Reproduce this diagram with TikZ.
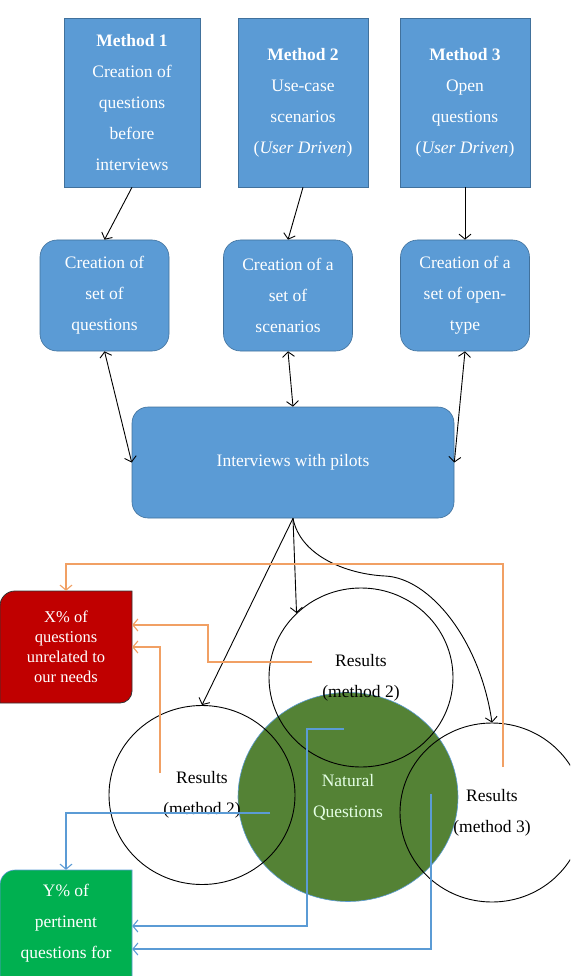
\documentclass[tikz,border=0pt]{standalone}
\usepackage{fontspec}
\setmainfont{Liberation Serif}
\usetikzlibrary{arrows.meta,shapes.geometric}
\definecolor{mblue}{RGB}{91,155,213}
\definecolor{mborder}{RGB}{65,113,156}
\definecolor{xred}{RGB}{192,0,0}
\definecolor{ygreen}{RGB}{0,176,80}
\definecolor{natgreen}{RGB}{84,130,53}
\definecolor{lorange}{RGB}{241,160,100}
\newcommand{\bigtxt}{\fontsize{17.5}{31}\selectfont}
\newcommand{\redtxt}{\fontsize{16.5}{20}\selectfont}

\begin{document}
\begin{tikzpicture}[x=1pt, y=-1pt,
    methbox/.style={rectangle, draw=mborder, line width=0.6pt, fill=mblue, text=white, minimum height=169pt, align=center, inner sep=2pt, font=\bigtxt},
    setbox/.style={rectangle, draw=mborder, line width=0.6pt, fill=mblue, text=white, rounded corners=17pt, minimum width=129pt, minimum height=111pt, align=center, inner sep=2pt, font=\bigtxt},
    resnode/.style={ellipse, draw, line width=0.9pt, minimum width=184pt, minimum height=179pt, align=center, inner sep=0pt, font=\bigtxt},
    arrow/.style={-{Straight Barb[length=5pt,width=12pt]}, line width=0.9pt},
    dblarrow/.style={{Straight Barb[length=5pt,width=12pt]}-{Straight Barb[length=5pt,width=12pt]}, line width=0.9pt},
    orline/.style={arrow, draw=lorange, line width=1.1pt},
    blline/.style={arrow, draw=mblue, line width=1.1pt}
  ]
  \useasboundingbox (0,0) rectangle (570,976);
  \clip (0,0) rectangle (570,976);

  % method boxes
  \node[methbox, minimum width=136pt] at (132,102.5) (meth1) {\textbf{Method 1}\\Creation of\\questions\\before\\interviews};
  \node[methbox, minimum width=130pt] at (303,102.5) (meth2) {\textbf{Method 2}\\Use-case\\scenarios\\(\textit{User Driven})};
  \node[methbox, minimum width=130pt] at (465,102.5) (meth3) {\textbf{Method 3}\\Open\\questions\\(\textit{User Driven})};

  % sets
  \node[setbox] at (104.5,295.5) (set1) {Creation of\\set of\\questions};
  \node[setbox] at (288,295.5)   (set2) {Creation of a\\set of\\scenarios};
  \node[setbox] at (465,295.5)   (set3) {Creation of a\\set of open-\\type};

  \node[setbox, rounded corners=16pt, minimum width=322pt] at (293,462.5) (intv) {Interviews with pilots};

  \draw[arrow] (meth1.south) -- (set1.north);
  \draw[arrow] (meth2.south) -- (set2.north);
  \draw[arrow] (meth3.south) -- (set3.north);
  \draw[dblarrow] (set1.south) -- (intv.west);
  \draw[dblarrow] (set2.south) -- (intv.north);
  \draw[dblarrow] (set3.south) -- (intv.east);

  % result circles
  \node[ellipse, draw=mblue, line width=0.6pt, fill=natgreen, text=green!10, minimum width=220pt, minimum height=209pt, align=center, font=\bigtxt] at (348,797) (natq) {Natural\\Questions};
  \node[resnode, minimum width=186pt] at (202,795) (resL) {Results\\(method 2)};
  \node[resnode] at (361,677.5) (resM) {Results\\(method 2)};
  \node[resnode] at (492,812.5) (resR) {Results\\(method 3)};

  \coordinate (bend) at (385,576);
  \draw[arrow] (intv.south) -- (resL.north);
  \draw[arrow] (intv.south) -- (resM.135);
  \draw[arrow] (intv.south) .. controls (300,555) and (345,574) .. (bend) .. controls (430,578) and (480,640) .. (resR.north);

  % outcome boxes
  \fill[xred, draw=black!80, line width=0.8pt] (0,703) -- (0,606) .. controls (0,597.7) and (6.7,591) .. (15,591) -- (132,591) -- (132,691) .. controls (132,697.6) and (126.6,703) .. (120,703) -- cycle;
  \node[minimum width=132pt, minimum height=112pt, align=center, text=white, font=\redtxt, inner sep=0pt] at (66,647) (unrel) {X\% of\\questions\\unrelated to\\our needs};
  \fill[ygreen, draw=mblue, line width=0.6pt] (0,995) -- (0,885) .. controls (0,876.7) and (6.7,870) .. (15,870) -- (132,870) -- (132,995) -- cycle;
  \node[minimum width=132pt, minimum height=106pt, align=center, text=white, font=\bigtxt, inner sep=0pt] at (66,923) (pert) {Y\% of\\pertinent\\questions for};

  % connectors to outcomes
  \coordinate (o1) at (160,773);
  \coordinate (o2) at (312,662);
  \coordinate (o3) at (503,767);
  \coordinate (b1) at (270,813);
  \coordinate (b2) at (344,729);
  \coordinate (b3) at (431,794);
  \draw[orline] (o3) -- ++(0,-203) -| (unrel.north);
  \draw[orline] (o2) -- ++(-104,0) |- ([yshift=22pt]unrel.east);
  \draw[orline] (o1) |- (unrel.east);
  \draw[blline] (b1) -| (pert.north);
  \draw[blline] (b2) -- ++(-37,0) |- ([yshift=-3pt]pert.east);
  \draw[blline] (b3) |- ([yshift=-26pt]pert.east);
\end{tikzpicture}
\end{document}
